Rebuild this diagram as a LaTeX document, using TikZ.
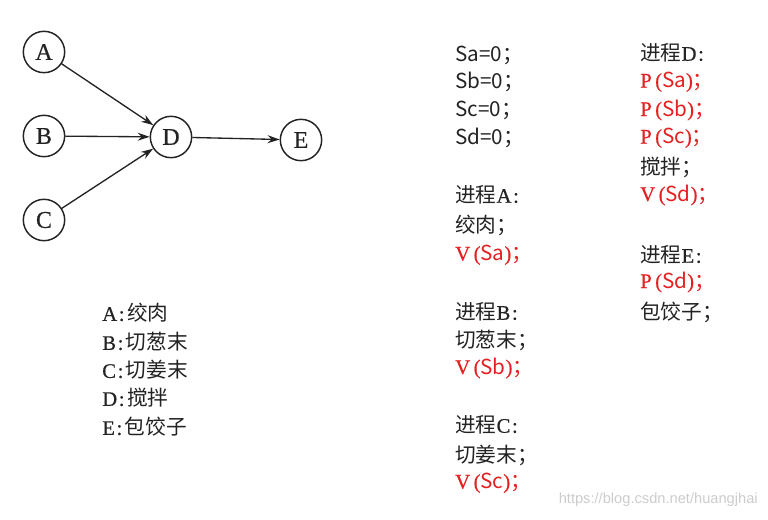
\documentclass[tikz,border=0pt]{standalone}
\usepackage{fontspec}
\setmainfont{Liberation Serif}[FakeBold=0.6,AutoFakeBold=0.6]
\newfontfamily\cjk{Noto Sans CJK SC}
\newfontfamily\wmfont{Liberation Sans}
\usetikzlibrary{arrows.meta}
\definecolor{ink}{RGB}{35,35,35}
\definecolor{vred}{RGB}{228,32,32}
\newcommand{\cl}{\hspace{0.08em}:\hspace{0.12em}}

\begin{document}
\begin{tikzpicture}[x=0.75pt, y=-0.75pt,
    state/.style={circle, draw=ink, line width=1.1pt, minimum size=31pt, inner sep=0pt, font=\fontsize{18}{18}\selectfont, text=ink},
    edge/.style={-{Stealth[length=9pt,width=6pt]}, draw=ink, line width=1pt},
    line/.style={anchor=west, inner sep=0pt, font=\fontsize{15.5}{17}\selectfont, text=ink},
    op/.style={line, text=vred}]
  \useasboundingbox (0,0) rectangle (768,520);
  % precedence graph
  \node[state] (A) at (44,52) {A};
  \node[state] (B) at (44,136) {B};
  \node[state] (C) at (44,220) {C};
  \node[state] (D) at (171,137) {D};
  \node[state] (E) at (301,140) {E};
  \draw[edge] (A) -- (D);
  \draw[edge] (B) -- (D);
  \draw[edge] (C) -- (D);
  \draw[edge] (D) -- (E);
  % legend
  \node[line] (la) at (102,313) {A\cl{\cjk 绞肉}};
  \node[line] (lb) at (102,342) {B\cl{\cjk 切葱末}};
  \node[line] (lc) at (102,370) {C\cl{\cjk 切姜末}};
  \node[line] (ld) at (102,398) {D\cl{\cjk 搅拌}};
  \node[line] (le) at (102,427) {E\cl{\cjk 包饺子}};
  % semaphores
  \node[line] (sa) at (455,55) {\cjk Sa=0；};
  \node[line] (sb) at (455,82) {\cjk Sb=0；};
  \node[line] (sc) at (455,110) {\cjk Sc=0；};
  \node[line] (sd) at (455,138) {\cjk Sd=0；};
  % process A
  \node[line] (pa) at (455,195) {{\cjk 进程}A\cl};
  \node[line] (pa1) at (455,225) {\cjk 绞肉；};
  \node[op] (pa2) at (455,255) {V\,({\cjk Sa}){\cjk ；}};
  % process B
  \node[line] (pb) at (455,312) {{\cjk 进程}B\cl};
  \node[line] (pb1) at (455,340) {\cjk 切葱末；};
  \node[op] (pb2) at (455,368) {V\,({\cjk Sb}){\cjk ；}};
  % process C
  \node[line] (pc) at (455,425) {{\cjk 进程}C\cl};
  \node[line] (pc1) at (455,455) {\cjk 切姜末；};
  \node[op] (pc2) at (455,483) {V\,({\cjk Sc}){\cjk ；}};
  % process D
  \node[line] (pd) at (640,53) {{\cjk 进程}D\cl};
  \node[op] (pd1) at (640,82) {P\,({\cjk Sa}){\cjk ；}};
  \node[op] (pd2) at (640,110) {P\,({\cjk Sb}){\cjk ；}};
  \node[op] (pd3) at (640,138) {P\,({\cjk Sc}){\cjk ；}};
  \node[line] (pd4) at (640,167) {\cjk 搅拌；};
  \node[op] (pd5) at (640,195) {V\,({\cjk Sd}){\cjk ；}};
  % process E
  \node[line] (pe) at (640,255) {{\cjk 进程}E\cl};
  \node[op] (pe1) at (640,282) {P\,({\cjk Sd}){\cjk ；}};
  \node[line] (pe2) at (640,312) {\cjk 包饺子；};
  % watermark
  \node[anchor=east, inner sep=0pt, text=gray!40, font=\wmfont\fontsize{11}{11}\selectfont] (mark) at (758,500) {https://blog.csdn.net/huangjhai};
\end{tikzpicture}
\end{document}
